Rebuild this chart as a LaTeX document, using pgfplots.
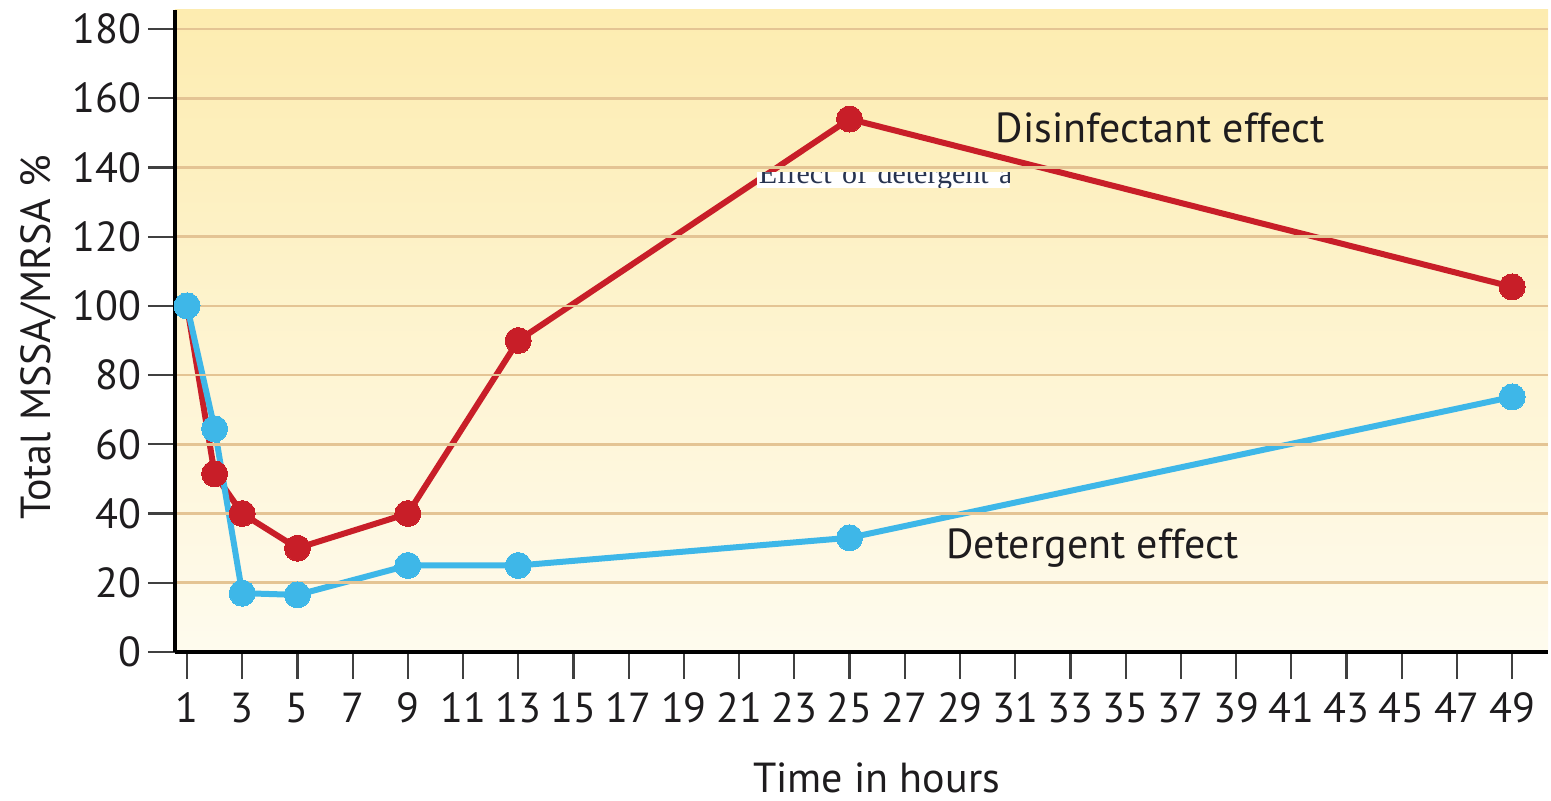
\documentclass[border=0pt]{standalone}
\usepackage{pgfplots}
\pgfplotsset{compat=1.18}
\usepackage{pgfplotstable}
\usepackage{fontspec}
\setmainfont{PT Sans}
\newfontfamily\artfont{Liberation Serif}
\definecolor{redl}{RGB}{200,30,40}
\definecolor{bluel}{RGB}{62,183,232}
\definecolor{gridc}{RGB}{228,196,148}
\definecolor{bgtop}{RGB}{253,236,176}
\definecolor{bgbot}{RGB}{254,251,238}
\definecolor{artc}{RGB}{40,52,80}
\definecolor{txt}{RGB}{30,28,30}

\pgfplotstableread{
x y
1 100
2 51.5
3 40
5 30
9 40
13 90
25 154
49 105.5
}\disinf
\pgfplotstableread{
x y
1 100
2 64.5
3 17
5 16.5
9 25
13 25
25 33
49 73.7
}\deterg

\begin{document}
\begin{tikzpicture}
\begin{axis}[
  scale only axis, width=686.5pt, height=321pt,
  xmin=0.565, xmax=50.3, ymin=0, ymax=185.5,
  axis x line*=bottom, axis y line*=left,
  axis line style={-, line width=2pt, black},
  xtick={1,3,...,49}, ytick={0,20,...,180},
  tick align=outside, major tick length=13.5pt,
  tick style={line width=1.1pt, color=black!75},
  ymajorgrids, grid style={line width=1.3pt, gridc},
  axis background/.style={top color=bgtop, bottom color=bgbot},
  tick label style={font=\fontsize{21}{25}\selectfont, text=txt},
  xticklabel style={yshift=-3.5pt},
  /pgf/number format/assume math mode=true,
  xlabel={Time in hours}, ylabel={Total MSSA/MRSA \%},
  label style={font=\fontsize{21}{25}\selectfont, text=txt},
  xlabel style={at={(axis description cs:0.511,-0.196)}, anchor=center},
  ylabel style={at={(axis description cs:-0.0998,0.49)}, anchor=center},
  clip=false, axis on top,
]
\addplot[redl, line width=3pt, mark=*, mark size=6.5pt, mark options={solid, fill=redl, draw=redl, line width=0pt}] table[x=x,y=y] {\disinf};
\addplot[bluel, line width=3pt, mark=*, mark size=6.5pt, mark options={solid, fill=bluel, draw=bluel, line width=0pt}] table[x=x,y=y] {\deterg};
\node[font=\fontsize{21}{25}\selectfont, text=txt] at (axis cs:36.25,151.4) {Disinfectant effect};
\node[font=\fontsize{21}{25}\selectfont, text=txt] at (axis cs:33.8,30) {Detergent effect};
\coordinate (O) at (rel axis cs:0,0);
\coordinate (A1) at (axis cs:21.65,134.1);
\coordinate (A2) at (axis cs:30.8,138.6);
\coordinate (A3) at (axis cs:21.7,135.5);
\end{axis}
\begin{scope}
\clip (A1) rectangle (A2);
\fill[white] (A1) rectangle (A2);
\node[anchor=base west, inner sep=0pt, text=artc, font=\artfont\fontsize{15}{18}\selectfont] at (A3) {Effect\hspace{1.5pt} of\hspace{1.5pt} detergent\hspace{1.5pt} a};
\end{scope}
\pgfresetboundingbox
\path (O) ++(-87.5pt,-74.5pt) rectangle ++(775.5pt,400.5pt);
\end{tikzpicture}
\end{document}
